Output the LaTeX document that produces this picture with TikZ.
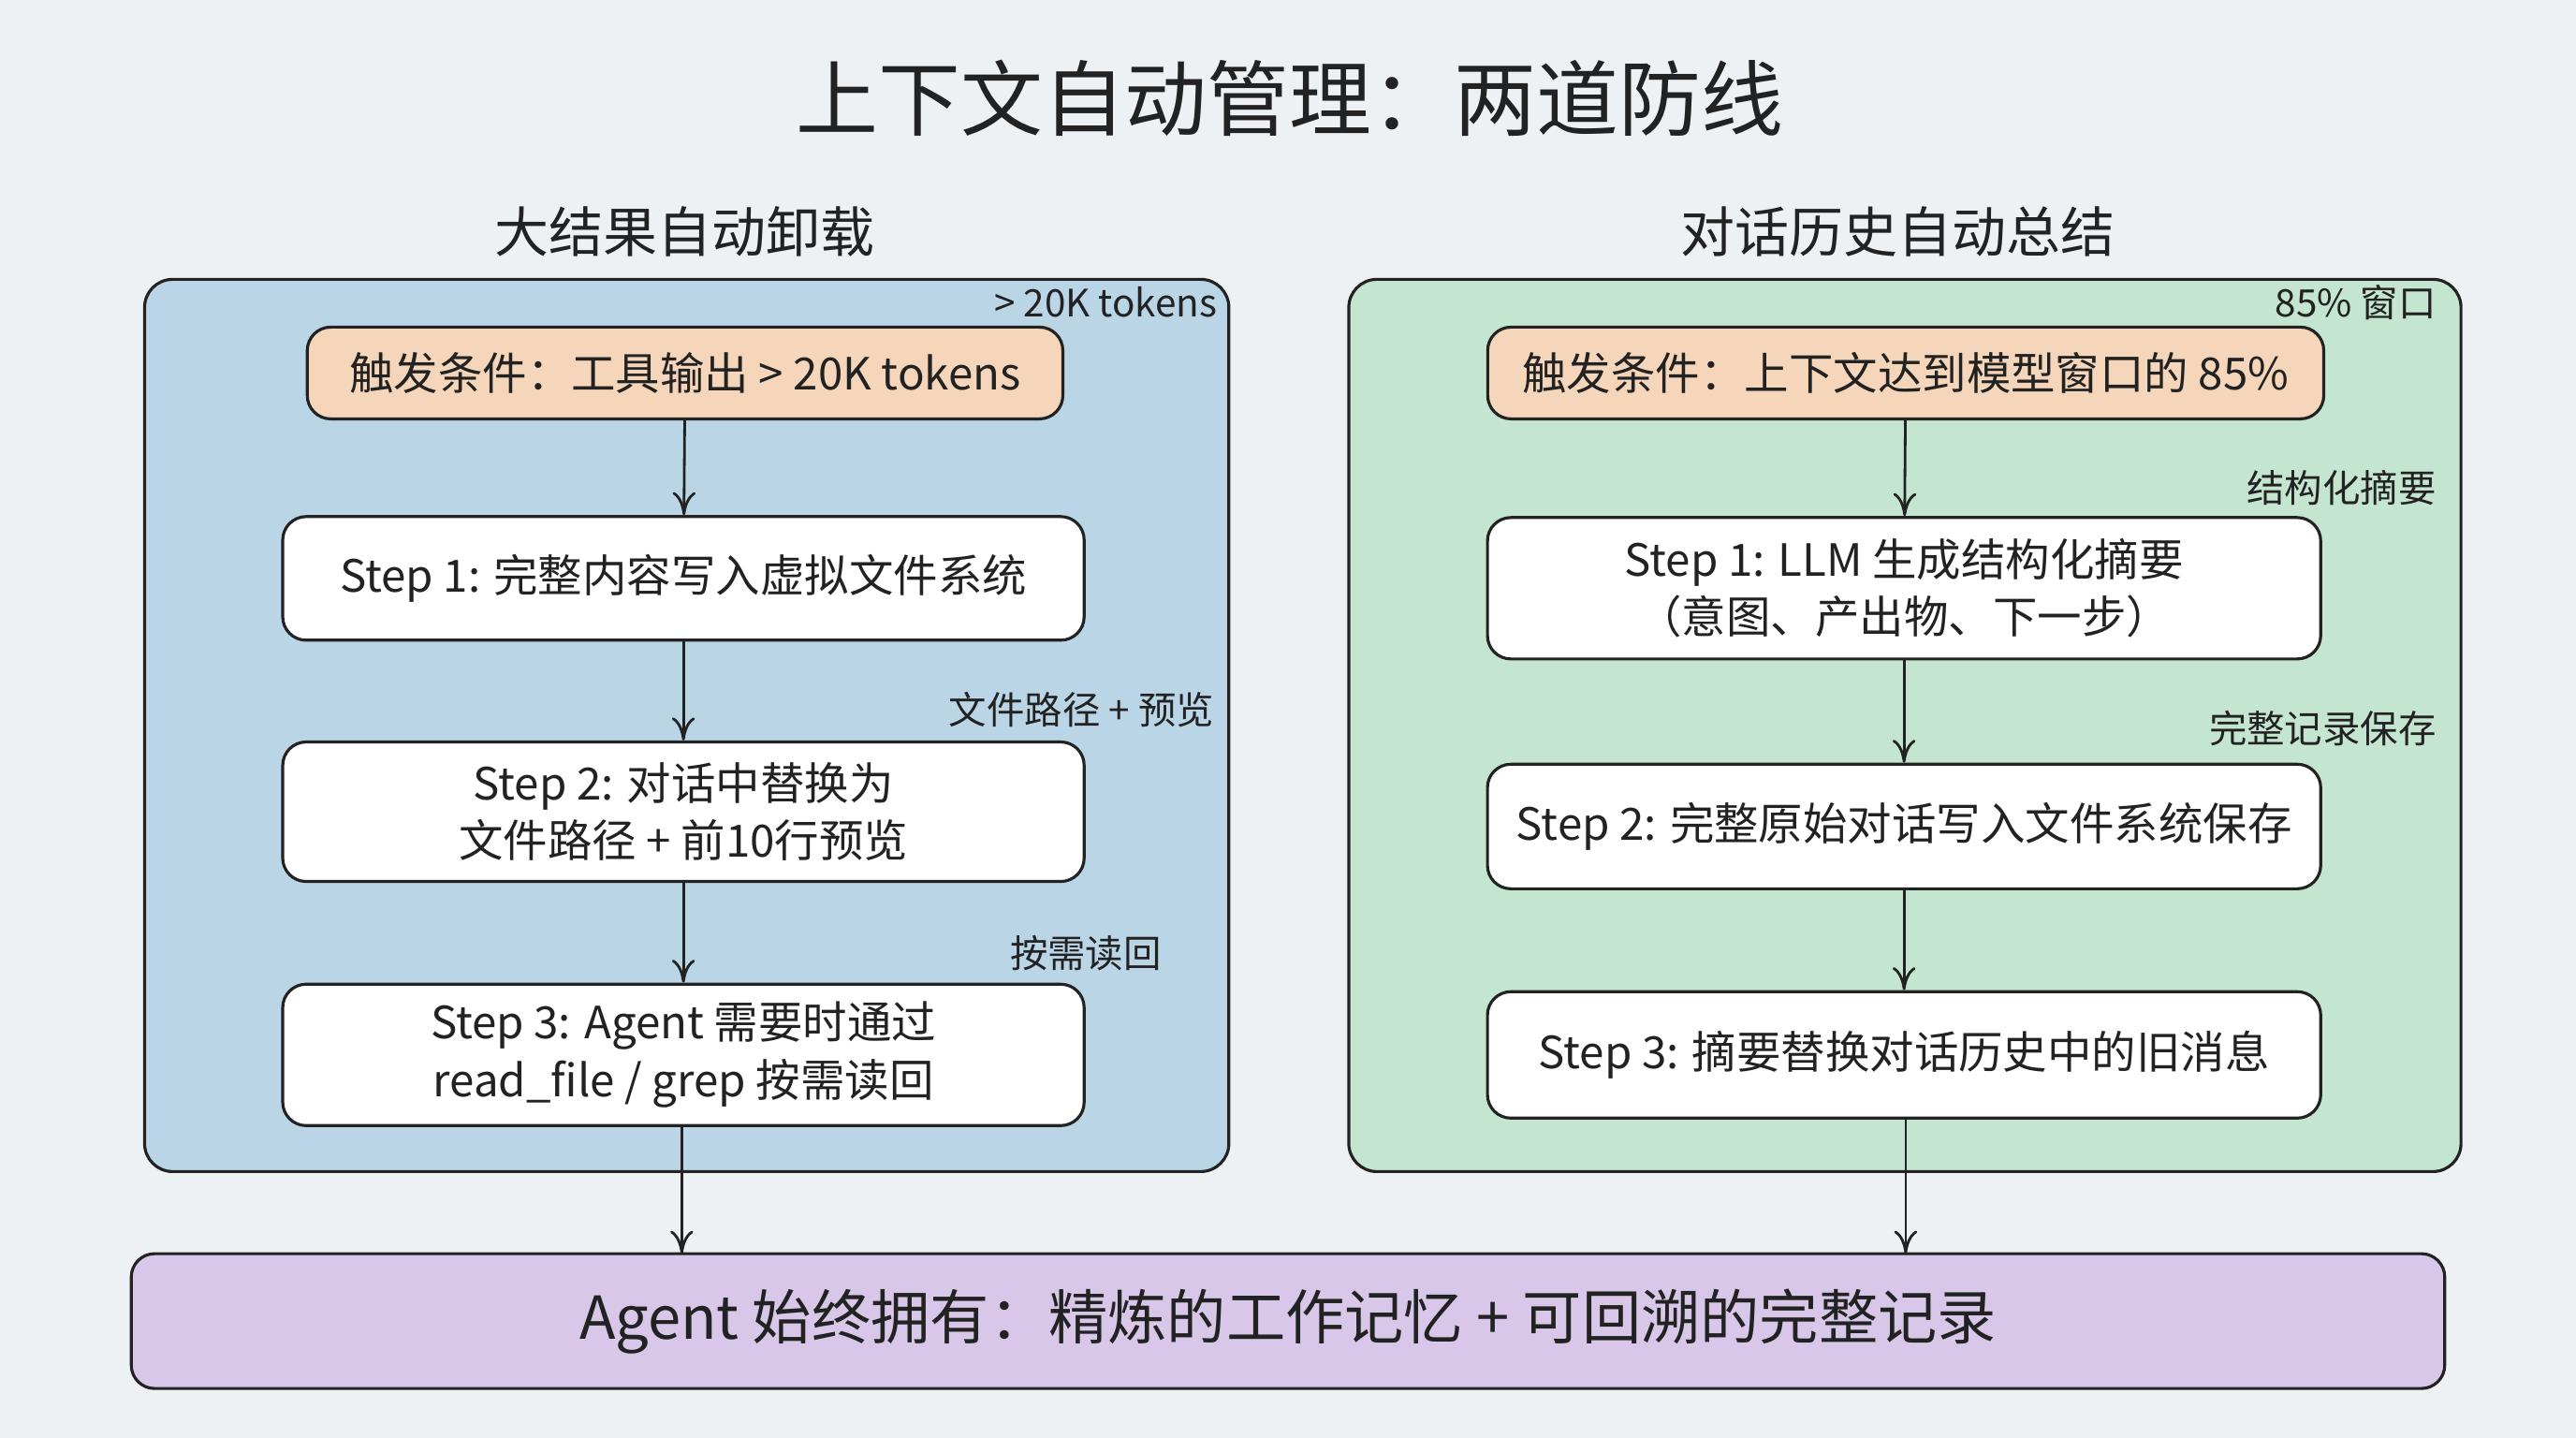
\documentclass[tikz,border=0pt]{standalone}
\usepackage{fontspec}
\setmainfont{Noto Sans CJK SC}
\usetikzlibrary{arrows.meta}
\definecolor{bgc}{HTML}{EEF1F4}
\definecolor{bluep}{HTML}{BAD5E6}
\definecolor{greenp}{HTML}{C4E5CF}
\definecolor{orangeb}{HTML}{F5D6BA}
\definecolor{purpleb}{HTML}{D8C7E8}
\definecolor{ink}{HTML}{222222}

\begin{document}
\begin{tikzpicture}[x=0.01755cm,y=-0.01755cm,
    panel/.style={draw=ink,line width=0.9pt,rounded corners=0.3cm},
    box/.style={draw=ink,line width=0.9pt,rounded corners=0.25cm,fill=white,align=center,
      font=\fontsize{13.5}{17.5}\selectfont,text=ink},
    trig/.style={box,fill=orangeb},
    note/.style={font=\fontsize{11.5}{14}\selectfont,text=ink,anchor=east},
    flow/.style={-{To[length=7pt,width=7pt]},draw=ink,line width=0.8pt}]
    \fill[bgc] (0,0) rectangle (1568,875);
    \useasboundingbox (0,0) rectangle (1568,875);
    % title and headings
    \node[font=\fontsize{25}{28}\selectfont,text=ink] (title) at (785,60) {上下文自动管理：两道防线};
    \node[font=\fontsize{16.5}{20}\selectfont,text=ink] (headL) at (417,141) {大结果自动卸载};
    \node[font=\fontsize{16.5}{20}\selectfont,text=ink] (headR) at (1155,141) {对话历史自动总结};
    % panels
    \draw[panel,fill=bluep] (88,170) rectangle (748,713);
    \draw[panel,fill=greenp] (821,170) rectangle (1498,713);
    % left column
    \node[trig,minimum width=8.07cm,minimum height=0.98cm] (tl) at (417,227) {触发条件：工具输出 > 20K tokens};
    \node[box,minimum width=8.56cm,minimum height=1.32cm] (l1) at (416,352) {Step 1: 完整内容写入虚拟文件系统};
    \node[box,minimum width=8.56cm,minimum height=1.49cm] (l2) at (416,494) {Step 2: 对话中替换为\\文件路径 + 前10行预览};
    \node[box,minimum width=8.56cm,minimum height=1.51cm] (l3) at (416,642) {Step 3: Agent 需要时通过\\read\_file / grep 按需读回};
    \node[note] (nl0) at (748,184) {> 20K tokens};
    \node[note] (nl2) at (746,432) {文件路径 + 预览};
    \node[note] (nl3) at (714,580) {按需读回};
    % right column
    \node[trig,minimum width=8.93cm,minimum height=0.98cm] (tr) at (1160,227) {触发条件：上下文达到模型窗口的 85\%};
    \node[box,minimum width=8.9cm,minimum height=1.51cm] (r1) at (1159,358) {Step 1: LLM 生成结构化摘要\\（意图、产出物、下一步）};
    \node[box,minimum width=8.9cm,minimum height=1.33cm] (r2) at (1159,503) {Step 2: 完整原始对话写入文件系统保存};
    \node[box,minimum width=8.9cm,minimum height=1.35cm] (r3) at (1159,642) {Step 3: 摘要替换对话历史中的旧消息};
    \node[note] (nr0) at (1490,184) {85\% 窗口};
    \node[note] (nr1) at (1490,297) {结构化摘要};
    \node[note] (nr2) at (1490,443) {完整记录保存};
    % bottom
    \node[box,fill=purpleb,minimum width=24.71cm,minimum height=1.44cm,font=\fontsize{18}{22}\selectfont] (goal) at (784,804)
      {Agent 始终拥有：精炼的工作记忆 + 可回溯的完整记录};
    \coordinate (gl) at (415,763);
    \coordinate (gr) at (1160,763);
    % arrows
    \draw[flow] (tl) -- (l1);
    \draw[flow] (l1) -- (l2);
    \draw[flow] (l2) -- (l3);
    \draw[flow] (l3.south -| gl) -- (gl);
    \draw[flow] (tr) -- (r1);
    \draw[flow] (r1) -- (r2);
    \draw[flow] (r2) -- (r3);
    \draw[flow] (r3.south -| gr) -- (gr);
\end{tikzpicture}
\end{document}
